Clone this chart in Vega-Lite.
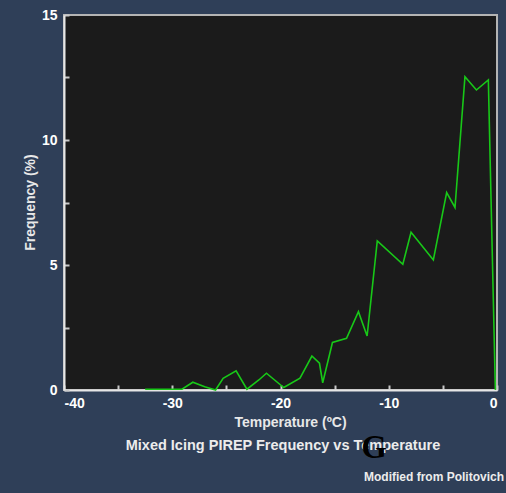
{
  "$schema": "https://vega.github.io/schema/vega-lite/v6.json",
  "width": 433,
  "height": 375,
  "autosize": {"type": "none"},
  "padding": {"left": 64, "top": 15, "right": 9, "bottom": 103},
  "background": "#2f3f58",
  "config": {
    "view": {"fill": "#1b1b1b", "stroke": "#b4b4b4", "strokeWidth": 2},
    "font": "Liberation Sans"
  },
  "layer": [
    {
      "data": {
        "values": [
          {"T": -32.5, "F": 0.03},
          {"T": -31, "F": 0.03},
          {"T": -30, "F": 0.03},
          {"T": -29.1, "F": 0.03},
          {"T": -28.1, "F": 0.31},
          {"T": -27, "F": 0.13},
          {"T": -26, "F": 0.0},
          {"T": -25.3, "F": 0.47},
          {"T": -24.1, "F": 0.77},
          {"T": -23.1, "F": 0.03},
          {"T": -22, "F": 0.4},
          {"T": -21.3, "F": 0.67},
          {"T": -20.1, "F": 0.24},
          {"T": -19.7, "F": 0.1},
          {"T": -18.2, "F": 0.47},
          {"T": -17.1, "F": 1.36},
          {"T": -16.4, "F": 1.07},
          {"T": -16.1, "F": 0.29},
          {"T": -15.2, "F": 1.9},
          {"T": -13.9, "F": 2.07},
          {"T": -12.8, "F": 3.13},
          {"T": -12.0, "F": 2.16},
          {"T": -11.06, "F": 5.96},
          {"T": -8.7, "F": 5.03},
          {"T": -7.94, "F": 6.31},
          {"T": -5.88, "F": 5.2},
          {"T": -4.65, "F": 7.9},
          {"T": -3.88, "F": 7.3},
          {"T": -2.96, "F": 12.53},
          {"T": -1.9, "F": 12.0},
          {"T": -0.8, "F": 12.4},
          {"T": -0.15, "F": 0.0}
        ]
      },
      "mark": {"type": "line", "color": "#18c818", "strokeWidth": 1.6},
      "encoding": {
        "x": {
          "field": "T",
          "type": "quantitative",
          "scale": {"domain": [-40, 0], "nice": false, "zero": false},
          "axis": {
            "values": [-40, -35, -30, -25, -20, -15, -10, -5, 0],
            "labelExpr": "datum.value % 10 === 0 ? '' + datum.value : ''",
            "title": "Temperature (ºC)",
            "titleFont": "Liberation Sans",
            "titleFontSize": 14,
            "titleFontWeight": "bold",
            "titleColor": "#e8e8e8",
            "titleX": 226,
            "titleY": 36,
            "titleBaseline": "alphabetic",
            "titleAnchor": "middle",
            "titleAlign": "center",
            "labelFont": "Liberation Sans",
            "labelFontSize": 14,
            "labelFontWeight": "bold",
            "labelColor": "#ffffff",
            "labelPadding": 11,
            "labelOverlap": false,
            "labelFlush": true,
            "tickSize": -5,
            "tickColor": "#c8c8c8",
            "tickWidth": 2,
            "domainColor": "#e6e6e6",
            "domainWidth": 2,
            "grid": false
          }
        },
        "y": {
          "field": "F",
          "type": "quantitative",
          "scale": {"domain": [0, 15], "nice": false, "zero": false},
          "axis": {
            "values": [0, 2.5, 5, 7.5, 10, 12.5, 15],
            "labelExpr": "datum.value % 5 === 0 ? '' + datum.value : ''",
            "title": "Frequency (%)",
            "titleFont": "Liberation Sans",
            "titleFontSize": 14,
            "titleFontWeight": "bold",
            "titleColor": "#e8e8e8",
            "titleX": -30,
            "titleY": 187,
            "titleAngle": -90,
            "titleBaseline": "alphabetic",
            "titleAlign": "center",
            "labelFont": "Liberation Sans",
            "labelFontSize": 14,
            "labelFontWeight": "bold",
            "labelColor": "#ffffff",
            "labelPadding": 12,
            "labelOverlap": false,
            "labelFlush": false,
            "labelDy": 1,
            "tickSize": -5,
            "tickColor": "#c8c8c8",
            "tickWidth": 2,
            "domainColor": "#e6e6e6",
            "domainWidth": 2,
            "grid": false
          }
        }
      }
    },
    {
      "data": {"values": [{"label": "Mixed Icing PIREP Frequency vs Temperature"}]},
      "mark": {"type": "text", "font": "Liberation Sans", "fontSize": 14.5, "fontWeight": "bold", "color": "#ececec", "align": "center", "baseline": "alphabetic"},
      "encoding": {
        "x": {"datum": -19.77, "type": "quantitative"},
        "y": {"datum": -2.4, "type": "quantitative"},
        "text": {"field": "label", "type": "nominal"}
      }
    },
    {
      "data": {"values": [{"label": "G"}]},
      "mark": {"type": "text", "font": "Liberation Serif", "fontSize": 33, "fontWeight": "bold", "color": "#000000", "align": "center", "baseline": "alphabetic"},
      "encoding": {
        "x": {"datum": -11.36, "type": "quantitative"},
        "y": {"datum": -2.71, "type": "quantitative"},
        "text": {"field": "label", "type": "nominal"}
      }
    },
    {
      "data": {"values": [{"label": "Modified from Politovich"}]},
      "mark": {"type": "text", "font": "Liberation Sans", "fontSize": 12, "fontWeight": "bold", "color": "#ececec", "align": "right", "baseline": "alphabetic"},
      "encoding": {
        "x": {"datum": 0.65, "type": "quantitative"},
        "y": {"datum": -3.64, "type": "quantitative"},
        "text": {"field": "label", "type": "nominal"}
      }
    }
  ]
}
